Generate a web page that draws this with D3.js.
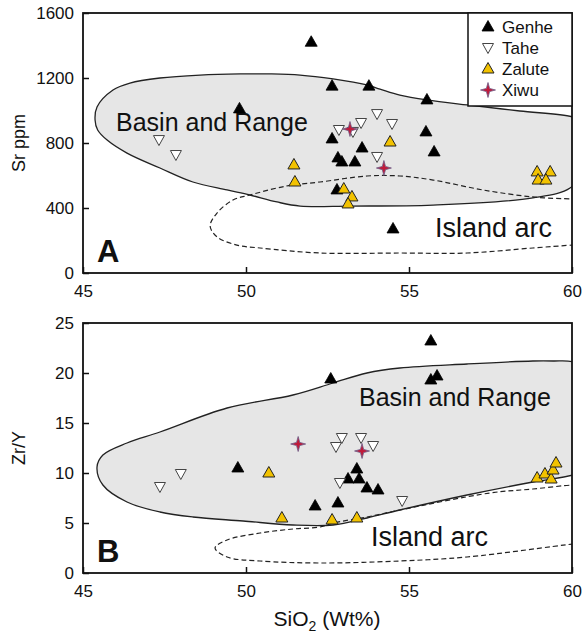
<!DOCTYPE html>
<html>
<head>
<meta charset="utf-8">
<script src="https://d3js.org/d3.v7.min.js"></script>
<style>
  body { margin: 0; background: #fff; }
  svg text { font-family: "Liberation Sans", Arial, sans-serif; fill: #111; }
</style>
</head>
<body>
<svg id="chart" width="584" height="635"></svg>
<script>
// ---- data: [SiO2 wt%, value] ----
const xTicks = [45, 50, 55, 60];
const srTicks = [0, 400, 800, 1200, 1600];
const zrTicks = [0, 5, 10, 15, 20, 25];

// panel A : Sr ppm
const genheA = [[52.0,1420],[49.8,1010],[52.64,1150],[53.77,1150],[55.55,1065],[55.52,868],[55.77,745],
  [52.64,825],[53.56,769],[52.82,708],[52.94,683],[53.34,683],[52.79,511],[54.51,271]];
const taheA = [[47.33,818],[47.85,726],[52.85,880],[53.28,868],[53.53,923],[54.02,978],[54.48,917],[54.02,714]];
const zaluteA = [[51.47,665],[51.5,560],[54.42,806],[53.0,517],[53.25,468],[53.13,425],
  [58.93,622],[59.33,622],[58.96,572],[59.2,572]];
const xiwuA = [[53.19,886],[54.23,646]];

// panel B : Zr/Y
const genheB = [[55.67,23.2],[52.6,19.4],[55.67,19.3],[55.86,19.7],[49.75,10.5],[53.4,10.4],[53.13,9.4],
  [53.47,9.4],[53.71,8.5],[54.05,8.3],[52.12,6.7],[52.82,7.0]];
const taheB = [[47.36,8.6],[48.0,9.9],[52.76,12.6],[52.94,13.5],[53.53,13.5],[53.9,12.7],[52.88,9.0],[54.79,7.2]];
const zaluteB = [[50.7,10.0],[51.1,5.5],[52.64,5.3],[53.4,5.5],[58.93,9.5],[59.17,9.9],[59.36,9.4],[59.42,10.3],[59.51,11.0]];
const xiwuB = [[51.6,12.9],[53.56,12.2]];

// field outlines
const basinA = [[45.37,942],[45.43,1022],[45.92,1126],[46.44,1169],[47.36,1200],[48.59,1218],[49.82,1225],
  [50.74,1225],[51.66,1218],[52.67,1194],[53.71,1157],[54.11,1132],[54.72,1095],[55.55,1065],[56.78,1034],
  [58.4,997],[60.03,960],[60.3,930],[60.45,820],[60.35,640],[59.94,523],[58.8,462],[55.74,418],[53.19,412],
  [51.66,412],[50.95,437],[50.12,480],[49.42,511],[48.37,560],[47.36,646],[46.35,738],[45.74,818],[45.45,880]];
const islandA = [[60.4,452],[60.03,455],[58.8,468],[57.27,511],[55.74,572],[54.72,597],[53.71,597],[52.27,560],
  [51.44,542],[50.95,523],[50.12,480],[49.6,449],[49.11,369],[48.9,289],[49.11,222],[49.72,172],[50.43,154],
  [52.27,123],[54.72,123],[56.78,123],[58.8,154],[60.03,172],[60.4,175]];
const basinB = [[45.43,10.6],[45.61,11.8],[46.35,13.0],[47.36,14.1],[49.42,16.5],[51.44,17.8],[52.67,19.0],
  [53.71,20.0],[54.72,20.5],[56.78,20.9],[58.8,21.2],[59.42,21.2],[60.03,21.1],[60.35,20.3],[60.45,15],
  [60.35,10.2],[60.03,9.8],[58.8,9.1],[56.78,7.8],[54.72,6.3],[53.71,5.5],[52.67,4.8],[51.44,4.8],
  [49.91,5.2],[48.37,5.6],[47.36,6.1],[46.35,7.1],[45.61,8.8]];
const islandB = [[60.4,8.8],[60.03,8.8],[58.8,8.4],[57.48,8.0],[54.72,6.3],[53.71,5.6],[52.67,5.0],[52.27,4.6],
  [51.44,4.4],[50.43,4.0],[49.42,3.3],[49.05,2.5],[49.42,1.6],[50.43,1.2],[52.27,1.0],[54.72,1.2],
  [56.78,1.6],[60.03,2.9],[60.4,3.0]];

const series = [
  {name: "Genhe", a: genheA, b: genheB},
  {name: "Tahe", a: taheA, b: taheB},
  {name: "Zalute", a: zaluteA, b: zaluteB},
  {name: "Xiwu", a: xiwuA, b: xiwuB}
];

// ---- drawing ----
const svg = d3.select("#chart");
const left = 83, right = 572;
const x = d3.scaleLinear().domain([45, 60]).range([left, right]);

const symbols = {
  Genhe: {d: "M0,-6.5L6,4L-6,4Z", fill: "#000", stroke: "#000", sw: 0.8},
  Tahe: {d: "M0,5.5L5.5,-4.5L-5.5,-4.5Z", fill: "#fff", stroke: "#444", sw: 1},
  Zalute: {d: "M0,-6.5L6,4L-6,4Z", fill: "#f2c200", stroke: "#222", sw: 1},
  Xiwu: {d: "M0,-7.5L1.6,-1.6L7.5,0L1.6,1.6L0,7.5L-1.6,1.6L-7.5,0L-1.6,-1.6Z", fill: "#c01a3a", stroke: "#6d5a86", sw: 0.8}
};

function drawPanel(cfg) {
  const y = d3.scaleLinear().domain(cfg.domain).range([cfg.bottom, cfg.top]);
  const g = svg.append("g");

  const clipId = "clip" + cfg.key;
  svg.append("clipPath").attr("id", clipId).append("rect")
    .attr("x", left).attr("y", cfg.top).attr("width", right - left).attr("height", cfg.bottom - cfg.top);

  const closed = d3.line().x(d => x(d[0])).y(d => y(d[1])).curve(d3.curveCatmullRomClosed.alpha(0.5));
  const open = d3.line().x(d => x(d[0])).y(d => y(d[1])).curve(d3.curveCatmullRom.alpha(0.5));

  const fields = g.append("g").attr("clip-path", `url(#${clipId})`);
  fields.append("path").attr("d", closed(cfg.basin))
    .attr("fill", "#e6e6e6").attr("stroke", "#222").attr("stroke-width", 1.3);
  fields.append("path").attr("d", open(cfg.island))
    .attr("fill", "none").attr("stroke", "#222").attr("stroke-width", 1.2).attr("stroke-dasharray", "5,3");

  // field labels
  g.append("text").attr("x", cfg.basinLabel[0]).attr("y", cfg.basinLabel[1])
    .attr("font-size", 25).text("Basin and Range");
  g.append("text").attr("x", cfg.islandLabel[0]).attr("y", cfg.islandLabel[1])
    .attr("font-size", 27).text("Island arc");
  g.append("text").attr("x", 97).attr("y", cfg.bottom - 11)
    .attr("font-size", 31).attr("font-weight", "bold").text(cfg.letter);

  // points
  series.forEach(s => {
    const sym = symbols[s.name];
    g.append("g").selectAll("path").data(s[cfg.key]).join("path")
      .attr("transform", d => `translate(${x(d[0])},${y(d[1])})`)
      .attr("d", sym.d).attr("fill", sym.fill).attr("stroke", sym.stroke).attr("stroke-width", sym.sw);
  });

  // axes (ticks point inward)
  const yAxis = d3.axisLeft(y).tickValues(cfg.ticks).tickFormat(d3.format("d"))
    .tickSizeInner(-6).tickSizeOuter(0).tickPadding(9);
  const ya = g.append("g").attr("transform", `translate(${left},0)`).call(yAxis);
  const xAxis = d3.axisBottom(x).tickValues(xTicks).tickSizeInner(-6).tickSizeOuter(0).tickPadding(12);
  const xa = g.append("g").attr("transform", `translate(0,${cfg.bottom})`).call(xAxis);
  [ya, xa].forEach(a => {
    a.select(".domain").remove();
    a.selectAll(".tick line").attr("stroke", "#111").attr("stroke-width", 1.5);
    a.selectAll("text").attr("font-size", 17).attr("font-family", "Liberation Sans, Arial, sans-serif").attr("fill", "#111");
  });

  g.append("rect").attr("x", left).attr("y", cfg.top).attr("width", right - left).attr("height", cfg.bottom - cfg.top)
    .attr("fill", "none").attr("stroke", "#111").attr("stroke-width", 1.8);

  g.append("text").attr("transform", `translate(25,${(cfg.top + cfg.bottom) / 2}) rotate(-90)`)
    .attr("text-anchor", "middle").attr("font-size", 18).text(cfg.ylabel);
  return g;
}

const gA = drawPanel({key: "a", domain: [0, 1600], ticks: srTicks, top: 13, bottom: 273, basin: basinA, island: islandA,
  basinLabel: [116, 131], islandLabel: [435, 237], letter: "A", ylabel: "Sr ppm"});
drawPanel({key: "b", domain: [0, 25], ticks: zrTicks, top: 323, bottom: 573, basin: basinB, island: islandB,
  basinLabel: [359, 406], islandLabel: [371, 546], letter: "B", ylabel: "Zr/Y"});

// legend in panel A
const legend = gA.append("g");
legend.append("rect").attr("x", 468).attr("y", 13).attr("width", 104).attr("height", 93)
  .attr("fill", "#fff").attr("stroke", "#111").attr("stroke-width", 1.5);
series.forEach((s, i) => {
  const sym = symbols[s.name];
  const cy = 27 + i * 21;
  legend.append("path").attr("transform", `translate(488,${cy})`).attr("d", sym.d)
    .attr("fill", sym.fill).attr("stroke", sym.stroke).attr("stroke-width", sym.sw);
  legend.append("text").attr("x", 502).attr("y", cy + 6).attr("font-size", 17).text(s.name);
});

// x axis title with subscript
const xt = svg.append("text").attr("x", 327).attr("y", 626).attr("text-anchor", "middle").attr("font-size", 21);
xt.append("tspan").text("SiO");
xt.append("tspan").attr("font-size", 14).attr("dy", 5).text("2");
xt.append("tspan").attr("dy", -5).text(" (Wt%)");
</script>
</body>
</html>
